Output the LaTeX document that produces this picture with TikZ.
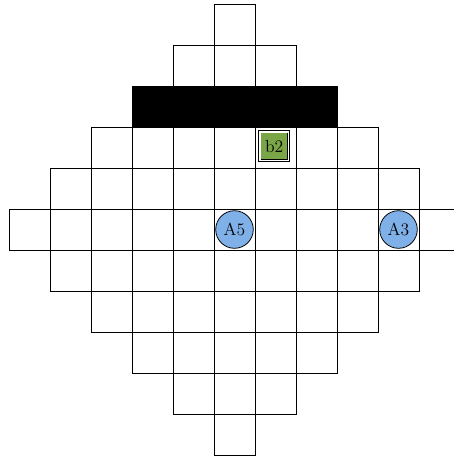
\documentclass[tikz,border=0pt]{standalone}
\definecolor{cellgreen}{RGB}{122,166,72}
\definecolor{cellblue}{RGB}{128,176,232}
\tikzset{
  cellbox/.style={draw=black, line width=0.55pt},
  wallbox/.style={fill=black, draw=black, line width=0.55pt},
  agent/.style={circle, draw=black, fill=cellblue, line width=0.55pt, minimum size=0.94cm, inner sep=0pt, font=\fontsize{12.5}{15}\selectfont},
  goal/.style={rectangle, draw=black, double, double distance=1.1pt, fill=cellgreen, line width=0.55pt, minimum size=0.72cm, inner sep=0pt, font=\fontsize{12.5}{15}\selectfont}
}
\begin{document}
\begin{tikzpicture}[x=1.025cm, y=-1.025cm]
\useasboundingbox (-0.2195,-0.0976) rectangle (10.8537,11.0488);
\clip (-0.2195,-0.0976) rectangle (10.8537,11.0488);
\foreach \r in {0,...,10} {
  \pgfmathtruncatemacro{\h}{5-abs(\r-5)}
  \pgfmathtruncatemacro{\a}{5-\h}
  \pgfmathtruncatemacro{\b}{5+\h}
  \foreach \c in {\a,...,\b} {
    \ifnum\r=2
      \draw[wallbox] (\c,\r) rectangle ++(1,1);
    \else
      \draw[cellbox] (\c,\r) rectangle ++(1,1);
    \fi
  }
}
\node[goal] (b2) at (6.47,3.47) {b2};
\node[agent] (A5) at (5.5,5.5) {A5};
\node[agent] (A3) at (9.5,5.5) {A3};
\end{tikzpicture}
\end{document}
